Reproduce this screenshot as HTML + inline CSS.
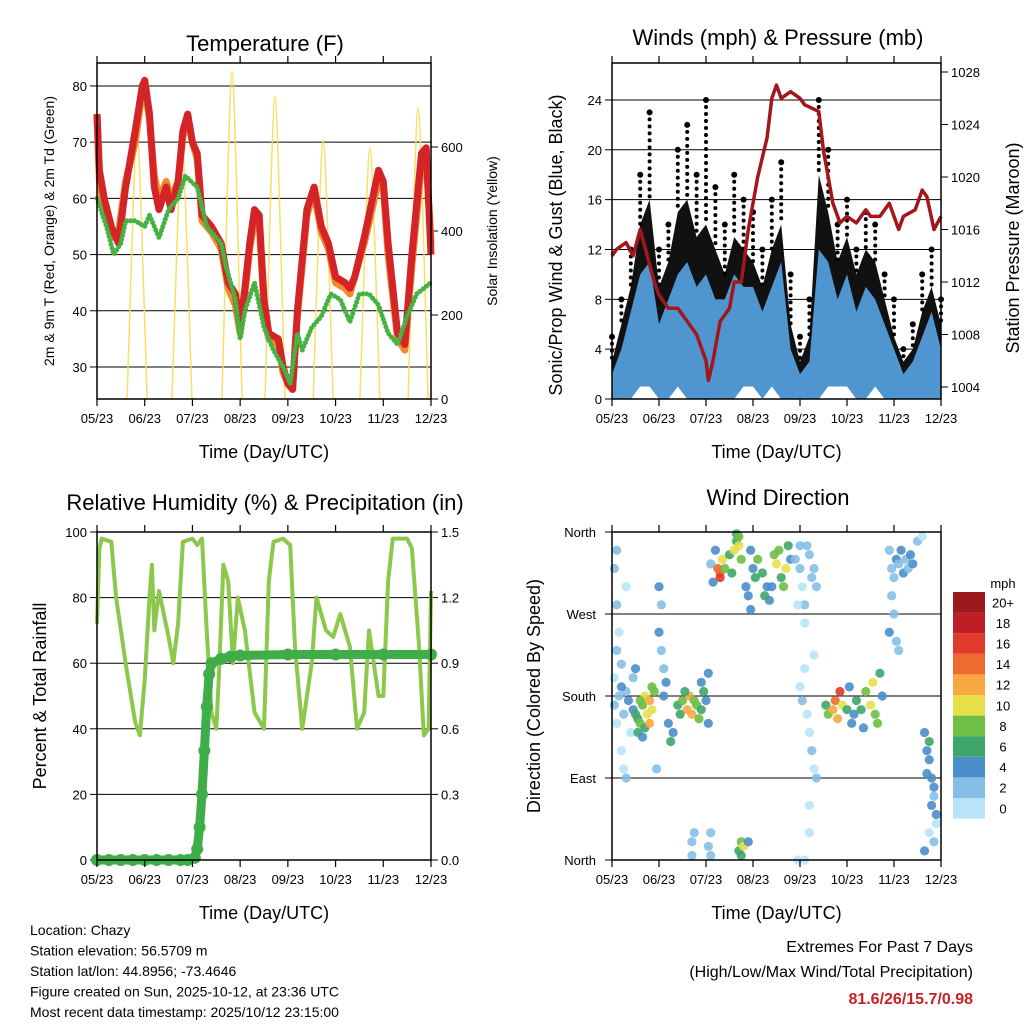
<!DOCTYPE html>
<html><head><meta charset="utf-8"><style>
body{margin:0;background:#fff}
svg{font-family:"Liberation Sans",sans-serif}
</style></head><body>
<svg id="c" width="1024" height="1024" viewBox="0 0 1024 1024"></svg>
<script>
// ---------- DATA ----------
const monthLabels=["05/23","06/23","07/23","08/23","09/23","10/23","11/23","12/23"];
const tempTicks=[30,40,50,60,70,80];
const solarTicks=[0,200,400,600];
const windTicks=[0,4,8,12,16,20,24];
const pressTicks=[1004,1008,1012,1016,1020,1024,1028];
const rhTicks=[0,20,40,60,80,100];
const rainTicks=["0.0","0.3","0.6","0.9","1.2","1.5"];
const dirLabels=["North","East","South","West","North"];
const cbLabels=["0","2","4","6","8","10","12","14","16","18","20+"];
const cbColors=["#b9e3f8","#85bfe7","#4b8ec9","#3fa66a","#6dbf45","#e6e04a","#f7a840","#ee6a2e","#e03a2c","#c01e25","#9b1a1d"];

const tRedM=[0,0.05,0.15,0.3,0.45,0.6,0.8,0.95,1.0,1.1,1.2,1.3,1.45,1.55,1.7,1.8,1.9,2.0,2.1,2.2,2.4,2.6,2.75,2.9,3.0,3.1,3.2,3.3,3.4,3.5,3.6,3.8,3.9,4.0,4.1,4.2,4.4,4.55,4.7,4.85,5.0,5.2,5.3,5.4,5.6,5.9,6.0,6.1,6.3,6.45,6.6,6.8,6.9,7.0];
const tRedV=[75,65,60,55,52,62,72,80,81,75,62,58,62,58,63,72,75,70,68,57,55,52,45,43,37,44,52,58,57,42,36,35,30,27,26,40,58,62,55,52,46,45,44,46,53,65,63,52,36,34,50,68,69,50];
const tOrgV=[75,63,58,53,54,63,70,79,80,74,64,60,63,60,63,71,74,70,67,56,54,51,44,41,36,43,51,56,56,40,35,34,29,27,26,39,57,61,54,51,45,44,43,46,52,63,62,50,35,33,48,66,67,52];
const tDewM=[0,0.2,0.35,0.5,0.6,0.8,1.0,1.1,1.3,1.5,1.7,1.85,2.1,2.3,2.6,2.7,2.9,3.0,3.1,3.3,3.5,3.7,3.9,4.05,4.2,4.3,4.5,4.7,4.9,5.1,5.3,5.5,5.7,5.9,6.1,6.3,6.5,6.7,7.0];
const tDewV=[60,55,50,52,56,56,55,57,53,58,60,64,62,55,52,48,42,35,40,45,37,33,30,27,36,33,37,39,43,42,38,43,43,41,36,34,39,43,45];
const solarPeakM=[0.84,1.78,2.83,3.73,4.74,5.72,6.73];
const solarPeakV=[633,610,780,720,616,598,693];

const pressM=[0,0.1,0.3,0.45,0.6,0.75,0.9,1.0,1.2,1.4,1.6,1.8,1.9,2.0,2.05,2.15,2.3,2.5,2.6,2.75,2.9,3.1,3.3,3.4,3.5,3.6,3.8,4.0,4.1,4.4,4.5,4.6,4.7,4.85,5.0,5.2,5.4,5.5,5.7,5.9,6.1,6.2,6.45,6.6,6.7,6.85,7.0];
const pressV=[1014,1014.5,1015,1014,1016,1014,1012,1011,1010,1010,1009,1008,1007,1006,1004.5,1006,1009,1010,1012,1012,1016,1020,1023,1026,1027,1026,1026.5,1026,1025.5,1025,1022,1020,1018,1016.5,1017,1016.5,1017.5,1017,1017,1018,1016,1017,1017.5,1019,1018.5,1016,1017];
const windM=[0,0.2,0.4,0.6,0.8,1.0,1.2,1.4,1.6,1.8,2.0,2.2,2.4,2.6,2.8,3.0,3.2,3.4,3.6,3.8,4.0,4.2,4.4,4.6,4.8,5.0,5.2,5.4,5.6,5.8,6.0,6.2,6.4,6.6,6.8,7.0];
const gustHi=[5,8,12,18,23,12,14,20,22,18,24,17,14,18,16,15,12,16,19,10,5,8,24,20,14,16,12,15,14,10,8,4,6,10,12,8];
const gustDense=[3,6,9,14,16,9,11,15,16,13,14,12,10,13,12,11,9,12,14,6,3,5,18,15,11,13,10,12,11,8,5,3,4,7,9,6];
const gustLo=[0,1,4,6,5,2,3,5,4,2,1,2,3,3,4,5,3,4,3,1,0,0,4,5,4,4,3,3,4,2,1,0,0,2,3,2];
const sonicHi=[2,4,7,10,11,6,8,10,11,9,10,8,8,10,9,9,7,9,11,4,2,3,12,11,8,10,7,9,8,6,4,2,3,5,7,4];
const sonicLo=[0,0,0,1,1,0,0,1,0,0,0,0,0,0,1,1,0,1,0,0,0,0,0,1,1,1,0,0,1,0,0,0,0,0,0,0];

const rhM=[0,0.05,0.1,0.3,0.4,0.5,0.6,0.8,0.9,1.0,1.1,1.15,1.2,1.3,1.4,1.5,1.6,1.7,1.8,2.0,2.1,2.2,2.3,2.4,2.5,2.55,2.65,2.75,2.85,2.95,3.1,3.3,3.5,3.6,3.7,3.9,4.05,4.15,4.3,4.5,4.6,4.8,4.95,5.1,5.3,5.45,5.6,5.7,5.9,6.0,6.1,6.2,6.5,6.6,6.75,6.85,6.95,7.0];
const rhV=[72,95,98,97,80,70,60,42,38,55,80,90,70,82,75,68,60,72,97,98,96,98,70,45,40,55,90,85,60,80,70,45,40,85,97,98,96,65,40,60,80,70,68,75,65,40,45,70,50,50,85,98,98,95,65,38,40,82];
const rainM=[0,0.25,0.5,0.75,1.0,1.25,1.5,1.75,1.9,2.05,2.1,2.15,2.2,2.25,2.3,2.35,2.4,2.6,2.8,3.0,4.0,5.0,6.0,7.0];
const rainV=[0,0,0,0,0,0,0,0,0,0.01,0.05,0.15,0.3,0.5,0.7,0.85,0.9,0.92,0.93,0.935,0.94,0.94,0.94,0.94];

const dirPts=[[0.05,200,0],[0.1,230,1],[0.15,250,0],[0.2,215,1],[0.05,170,1],[0.1,150,0],[0.2,120,0],[0.25,100,0],[0.3,90,1],[0.15,180,2],[0.3,185,2],[0.35,175,3],[0.2,190,3],[0.1,280,2],[0.05,320,2],[0.1,340,1],[0.25,160,1],[0.4,140,0],[0.45,200,2],[0.5,210,3],[0.3,300,0],
[0.45,165,4],[0.5,160,5],[0.55,155,6],[0.6,150,7],[0.65,170,8],[0.7,180,9],[0.75,160,10],[0.8,175,11],[0.85,190,8],[0.9,185,7],[0.7,145,6],[0.8,150,12],[0.6,175,8],[0.55,140,5],[0.65,135,4],[0.85,165,10],
[1.0,250,3],[1.05,230,2],[1.1,210,2],[1.15,195,3],[1.1,180,4],[1.2,150,4],[1.25,130,5],[1.3,140,4],[1.0,300,4],[1.05,280,2],[0.95,100,1],
[1.4,170,6],[1.5,175,8],[1.6,165,12],[1.65,180,12],[1.7,160,11],[1.75,175,8],[1.8,170,7],[1.9,165,6],[1.95,185,5],[2.0,175,4],[2.05,150,4],[2.05,205,4],[1.55,185,6],[1.85,155,8],[1.45,160,5],[1.9,195,3],
[1.7,20,1],[1.75,30,2],[1.7,5,2],[2.05,15,1],[2.1,5,2],[2.1,30,1],
[2.1,325,2],[2.15,305,3],[2.2,340,4],[2.25,320,14],[2.3,315,13],[2.3,310,16],[2.35,330,10],[2.4,320,8],[2.5,335,6],[2.55,315,5],[2.6,340,9],[2.65,350,6],[2.7,345,10],[2.75,330,8],[2.85,300,4],[2.9,290,3],[2.95,340,4],[3.0,320,4],[3.05,310,6],[3.1,330,8],[3.2,315,6],[3.3,300,4],[3.35,285,4],[3.45,335,8],[3.5,325,10],[3.55,340,8],[3.6,310,6],[3.65,300,8],[3.7,320,10],[3.75,345,6],[3.8,330,4],[3.4,300,4],[2.95,275,4],[3.25,290,5],[2.65,358,6],[2.7,355,8],
[2.7,10,6],[2.75,20,8],[2.8,15,10],[2.75,5,6],[2.9,20,4],
[3.9,330,1],[4.0,320,1],[4.05,300,0],[4.1,280,1],[4.2,335,1],[4.25,310,2],[4.3,320,1],[4.35,300,1],[4.0,345,2],[4.15,345,2],[3.95,280,0],[4.1,260,0],
[4.0,190,0],[4.05,175,1],[4.1,210,0],[4.15,160,0],[4.2,140,0],[4.25,120,2],[4.3,100,0],[4.35,90,1],[4.2,60,0],[4.2,30,0],[4.3,225,0],[3.95,0,0],[4.1,0,0],
[4.55,170,6],[4.6,160,8],[4.7,165,12],[4.75,175,14],[4.8,155,12],[4.85,185,16],[4.9,170,10],[5.0,165,6],[5.1,150,4],[5.15,160,4],[5.2,175,6],[5.3,165,6],[5.4,185,8],[5.5,170,10],[5.55,195,10],[5.6,160,8],[5.65,150,8],[5.7,205,6],[5.75,180,4],[5.05,190,4],[5.35,145,4],
[5.9,340,2],[5.95,320,2],[6.0,310,2],[6.05,330,3],[6.1,325,2],[6.15,340,3],[6.2,315,4],[6.25,330,2],[6.3,320,2],[6.35,335,4],[6.4,325,3],[5.95,290,1],[6.0,270,2],[5.9,250,3],[6.05,240,2],[6.1,230,1],[6.5,350,1],[6.6,355,0],
[6.65,140,4],[6.7,120,4],[6.75,110,3],[6.7,95,4],[6.8,90,3],[6.85,80,4],[6.8,60,4],[6.85,70,2],[6.9,50,3],[6.75,30,0],[6.85,20,2],[6.65,10,4],[6.75,130,6],[6.9,40,0]];

// ---------- HELPERS ----------
const svg=document.getElementById('c');
const NS="http://www.w3.org/2000/svg";
function mk(tag,attrs,parent){const e=document.createElementNS(NS,tag);for(const k in attrs)e.setAttribute(k,attrs[k]);(parent||svg).appendChild(e);return e;}
function txt(s,x,y,size,anchor,parent,rot,extra){const t=mk('text',{x:x,y:y,'font-size':size,'text-anchor':anchor||'middle',fill:'#000'},parent);if(rot)t.setAttribute('transform','rotate('+rot+' '+x+' '+y+')');if(extra)for(const k in extra)t.setAttribute(k,extra[k]);t.textContent=s;return t;}
function poly(xs,ys,attrs,parent){const p=mk('polyline',attrs,parent);p.setAttribute('points',xs.map((x,i)=>x.toFixed(1)+','+ys[i].toFixed(1)).join(' '));p.setAttribute('fill','none');return p;}

function frame(g,L,T,R,B,xLab){
  mk('rect',{x:L,y:T,width:R-L,height:B-T,fill:'none',stroke:'#000','stroke-width':1.5},g);
  const xs=m=>L+m*(R-L)/7;
  monthLabels.forEach((s,i)=>{
    const x=xs(i);
    mk('line',{x1:x,y1:B,x2:x,y2:B+7,stroke:'#000','stroke-width':1.2},g);
    mk('line',{x1:x,y1:T,x2:x,y2:T-7,stroke:'#000','stroke-width':1.2},g);
    const t=txt(s,x,B+24,13,'middle',g);
    
  });
  const xl=txt(xLab,(L+R)/2,B+59,18,'middle',g);
  
  return xs;
}
function gridY(g,L,R,y){mk('line',{x1:L,y1:y,x2:R,y2:y,stroke:'#000','stroke-width':1},g);}

// ---------- TEMPERATURE ----------
(function(){
const g=mk('g',{});

const L=97,T=63,R=431,B=399;
const xs=m=>L+m*(R-L)/7;
const ys=v=>B-(v-24.3)*5.62;
const ysol=v=>B-v*0.42;
tempTicks.forEach(v=>{gridY(g,L,R,ys(v));mk('line',{x1:L-7,y1:ys(v),x2:L,y2:ys(v),stroke:'#000'},g);const t=txt(String(v),L-10,ys(v)+5,13,'end',g);});
solarTicks.forEach(v=>{mk('line',{x1:R,y1:ysol(v),x2:R+7,y2:ysol(v),stroke:'#000'},g);const t=txt(String(v),R+10,ysol(v)+5,13,'start',g);});
const sg=mk('g',{},g);
solarPeakM.forEach((m,i)=>{
  const c=xs(m),w=10,top=ysol(solarPeakV[i]);
  const p=mk('path',{d:`M${c-w},${B} C${c-w*0.5},${B-(B-top)*0.6} ${c-w*0.2},${top} ${c},${top} C${c+w*0.2},${top} ${c+w*0.5},${B-(B-top)*0.6} ${c+w},${B}`,fill:'none',stroke:'#f7dc55','stroke-width':1.5,opacity:0.9},sg);
  
});
const o=poly(tRedM.map(xs),tOrgV.map(ys),{stroke:'#f08a2c','stroke-width':7,'stroke-linejoin':'round'},g);

const r=poly(tRedM.map(xs),tRedV.map(ys),{stroke:'#d42427','stroke-width':7,'stroke-linejoin':'round'},g);

const d=poly(tDewM.map(xs),tDewV.map(ys),{stroke:'#45b241','stroke-width':5,'stroke-dasharray':'0 4','stroke-linecap':'round','stroke-linejoin':'round'},g);

frame(g,L,T,R,B,'Time (Day/UTC)');
const tt=txt('Temperature (F)',265,51,22,'middle',g);
const yl=txt('2m & 9m T (Red, Orange) & 2m Td (Green)',54,231,14,'middle',g,-90);
const y2=txt('Solar Insolation (Yellow)',497,231,14,'middle',g,-90);
})();

// ---------- WINDS ----------
(function(){
const g=mk('g',{});

const L=612,T=63,R=941,B=399;
const xs=m=>L+m*(R-L)/7;
const ys=v=>B-v*12.46;
const yp=p=>387-(p-1004)*13.125;
windTicks.forEach(v=>{if(v>0)gridY(g,L,R,ys(v));mk('line',{x1:L-7,y1:ys(v),x2:L,y2:ys(v),stroke:'#000'},g);const t=txt(String(v),L-10,ys(v)+5,13,'end',g);});
pressTicks.forEach(v=>{mk('line',{x1:R,y1:yp(v),x2:R+7,y2:yp(v),stroke:'#000'},g);const t=txt(String(v),R+10,yp(v)+5,13,'start',g);});
const gb=mk('polygon',{fill:'#111'},g);
gb.setAttribute('points',windM.map((m,i)=>xs(m)+','+ys(gustDense[i])).concat(windM.map((m,i)=>xs(m)+','+ys(gustLo[i])).reverse()).join(' '));

windM.forEach((m,i)=>{
  const c=mk('circle',{cx:xs(m),cy:ys(gustHi[i]),r:3,fill:'#000'},g);
  const l=mk('line',{x1:xs(m),y1:ys(gustHi[i]),x2:xs(m),y2:ys(gustDense[i]),stroke:'#000','stroke-width':4,'stroke-dasharray':'0 7','stroke-linecap':'round'},g);
});
const sb=mk('polygon',{fill:'#4f96d0'},g);
sb.setAttribute('points',windM.map((m,i)=>xs(m)+','+ys(sonicHi[i])).concat(windM.map((m,i)=>xs(m)+','+ys(sonicLo[i])).reverse()).join(' '));

const pl=poly(pressM.map(xs),pressV.map(yp),{stroke:'#a3171c','stroke-width':3.5,'stroke-linejoin':'round'},g);

frame(g,L,T,R,B,'Time (Day/UTC)');
const tt=txt('Winds (mph) & Pressure (mb)',778,45,22,'middle',g);
const yl=txt('Sonic/Prop Wind & Gust (Blue, Black)',562,245,18,'middle',g,-90);
const y2=txt('Station Pressure (Maroon)',1019,248,18,'middle',g,-90);
})();

// ---------- RH ----------
(function(){
const g=mk('g',{});

const L=97,T=532,R=431,B=860;
const xs=m=>L+m*(R-L)/7;
const ys=v=>B-v*3.28;
const yr=v=>B-v/1.5*328;
rhTicks.forEach((v,i)=>{if(v>0&&v<100)gridY(g,L,R,ys(v));mk('line',{x1:L-7,y1:ys(v),x2:L,y2:ys(v),stroke:'#000'},g);const t=txt(String(v),L-10,ys(v)+5,13,'end',g);
 mk('line',{x1:R,y1:ys(v),x2:R+7,y2:ys(v),stroke:'#000'},g);const t2=txt(rainTicks[i],R+10,ys(v)+5,13,'start',g);});
const rl=poly(rhM.map(xs),rhV.map(ys),{stroke:'#8cc84b','stroke-width':4,'stroke-linejoin':'round'},g);

const pr=poly(rainM.map(xs),rainV.map(yr),{stroke:'#3fae49','stroke-width':9,'stroke-linejoin':'round','stroke-linecap':'round'},g);

rainM.forEach((m,i)=>{const c=mk('circle',{cx:xs(m),cy:yr(rainV[i]),r:6,fill:'#3fae49'},g);});
frame(g,L,T,R,B,'Time (Day/UTC)');
const tt=txt('Relative Humidity (%) & Precipitation (in)',265,510,22,'middle',g);
const yl=txt('Percent & Total Rainfall',46,696,18,'middle',g,-90);
})();

// ---------- WIND DIRECTION ----------
(function(){
const g=mk('g',{});

const L=612,T=532,R=941,B=860;
const xs=m=>L+m*(R-L)/7;
const ys=d=>B-d/360*328;
dirLabels.forEach((s,i)=>{const y=ys(i*90);if(i>0&&i<4)gridY(g,L,R,y);mk('line',{x1:L-7,y1:y,x2:L,y2:y,stroke:'#000'},g);const t=txt(s,L-16,y+5,13,'end',g);});
const colorFor=s=>cbColors[Math.min(10,Math.round(s/2))];
dirPts.forEach(p=>{const c=mk('circle',{cx:xs(p[0]),cy:ys(p[1]),r:4.6,fill:colorFor(p[2]),opacity:0.9},g);});
frame(g,L,T,R,B,'Time (Day/UTC)');
const tt=txt('Wind Direction',778,505,22,'middle',g);
const yl=txt('Direction (Colored By Speed)',540,696,18,'middle',g,-90);
const cb=mk('g',{},g);
const cbTop=592,cbH=20.6;
cbColors.forEach((c,i)=>{const y=cbTop+(10-i)*cbH;const r=mk('rect',{x:953,y:y,width:32,height:cbH,fill:c},cb);
 const t=txt(cbLabels[i],1003,y+cbH/2+5,13,'middle',cb);});
const u=txt('mph',1003,588,13,'middle',cb);
})();

// ---------- FOOTER ----------
const info=["Location: Chazy","Station elevation: 56.5709 m","Station lat/lon: 44.8956; -73.4646","Figure created on Sun, 2025-10-12, at 23:36 UTC","Most recent data timestamp: 2025/10/12 23:15:00"];
info.forEach((s,i)=>{const t=txt(s,30,935+i*20.5,14,'start');});
const e1=txt('Extremes For Past 7 Days',973,952,16,'end');
const e2=txt('(High/Low/Max Wind/Total Precipitation)',973,977,16,'end');
const e3=txt('81.6/26/15.7/0.98',973,1004,16,'end',null,0,{'font-weight':'bold',fill:'#c8202a'});
</script>
</body></html>
